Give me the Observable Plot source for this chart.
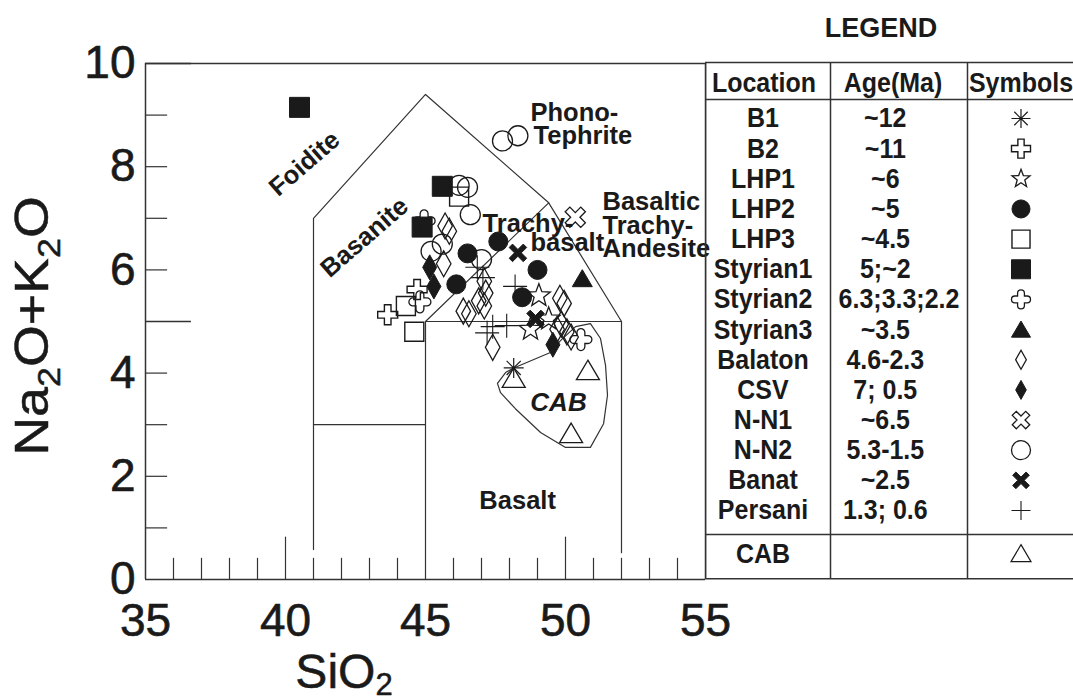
<!DOCTYPE html>
<html><head><meta charset="utf-8">
<script src="https://cdn.jsdelivr.net/npm/d3@7"></script>
<script src="https://cdn.jsdelivr.net/npm/@observablehq/plot@0.6"></script>
<style>
body{margin:0;background:#fff;}
#wrap{position:relative;width:1073px;height:697px;overflow:hidden;}
#wrap svg{position:absolute;top:0;}
#wrap [aria-label="x-axis tick label"] text, #wrap [aria-label="y-axis tick label"] text{stroke:#1a1a1a;stroke-width:0.6px;}
</style></head><body><div id="wrap"></div>
<script>
// ---------- data (SiO2, Na2O+K2O) ----------
const b1 = [[48.15, 4.1]];
const b2 = [[43.65, 5.13], [44.7, 5.62]];
const lhp1 = [[49.05, 5.5], [48.75, 4.85], [49.4, 5.05]];
const lhp2 = [[46.5, 6.32], [46.1, 5.72], [47.6, 6.55], [49.0, 6.0], [48.45, 5.47]];
const lhp3 = [[44.3, 5.3], [44.6, 4.8], [46.2, 7.42]];
const styrian1 = [[40.5, 9.15], [45.6, 7.62], [44.88, 6.83]];
const styrian2 = [[44.8, 5.38], [50.55, 4.65], [44.95, 6.95]];
const styrian3 = [[50.6, 5.83]];
const balaton = [[45.7, 6.85], [45.85, 6.75], [45.65, 6.12], [46.35, 5.2], [46.55, 5.15], [46.9, 5.4],
  [47.1, 5.78], [47.15, 5.55], [47.1, 5.3], [47.4, 4.5], [49.8, 5.45], [49.95, 5.35], [49.7, 4.85],
  [49.85, 4.95], [50.05, 4.8], [50.2, 4.7]];
const csv = [[45.15, 6.05], [45.3, 5.68], [49.55, 4.55]];
const nn1 = [[50.35, 7.02]];
const nn2 = [[47.75, 8.5], [48.3, 8.6], [46.2, 7.64], [46.5, 7.6], [46.6, 7.07], [45.2, 6.36], [45.6, 6.5], [47.0, 6.2]];
const banat = [[48.3, 6.33], [48.93, 5.05]];
const persani = [[46.85, 6.05], [47.05, 5.85], [48.2, 5.68], [47.2, 4.78], [47.4, 4.9], [47.9, 4.92]];
const cab = [[48.15, 3.9], [50.8, 4.05], [50.2, 2.83]];

// TAS field boundaries
const tasOuter = [[41, 0.58], [41, 7], [45, 9.4], [49.4, 7.3], [52, 5], [52, 0.52]];
const tasPicro = [[41, 3], [45, 3]];
const tasBasalt = [[45, 0], [45, 5], [52, 5]];
const tasTrachy = [[45, 5], [49.4, 7.3]];
const cabOutline = [[48.11, 4.09], [49.46, 4.4], [49.82, 4.63], [50.36, 4.9], [50.89, 4.96], [51.25, 4.67],
  [51.43, 4.15], [51.5, 3.57], [51.36, 3.02], [50.89, 2.56], [50.0, 2.56], [49.11, 2.85], [48.21, 3.31],
  [47.68, 3.62], [47.57, 3.8], [47.86, 4.01], [48.11, 4.09]];

// axis ticks
const xTickLabels = [35, 40, 45, 50, 55];
const yTickLabels = [0, 2, 4, 6, 8, 10];
const xMinor = [36, 37, 38, 39, 41, 42, 43, 44, 46, 47, 48, 49, 51, 52, 53, 54];
const xMajor = [40, 50];
const yMinor = [1, 2, 3, 4, 6, 7, 8, 9];
const yMajor = [5, 10];

// field labels
const rotNames = ["Foidite", "Basanite"];
const rotX = [40.68, 42.82];
const rotY = [8.06, 6.63];
const startNames = ["Phono-", "Tephrite", "Trachy-", "basalt", "Basaltic", "Trachy-", "Andesite"];
const startX = [48.75, 48.86, 47.04, 48.75, 51.32, 51.32, 51.32];
const startY = [9.05, 8.59, 6.9, 6.53, 7.31, 6.86, 6.41];

// legend
const locations = ["B1", "B2", "LHP1", "LHP2", "LHP3", "Styrian1", "Styrian2", "Styrian3", "Balaton", "CSV", "N-N1", "N-N2", "Banat", "Persani"];
const ages = ["~12", "~11", "~6", "~5", "~4.5", "5;~2", "6.3;3.3;2.2", "~3.5", "4.6-2.3", "7; 0.5", "~6.5", "5.3-1.5", "~2.5", "1.3; 0.6"];
const headers = ["Location", "Age(Ma)", "Symbols"];

// ---------- symbols ----------
const rad = s => Math.sqrt(s / Math.PI);
function poly(ctx, pts, rot = 0) {
  const c = Math.cos(rot), s = Math.sin(rot);
  pts.forEach(([x, y], i) => { const X = x * c - y * s, Y = x * s + y * c; i ? ctx.lineTo(X, Y) : ctx.moveTo(X, Y); });
  ctx.closePath();
}
function plusPts(r, w) {
  return [[w, -w], [w, -r], [-w, -r], [-w, -w], [-r, -w], [-r, w], [-w, w], [-w, r], [w, r], [w, w], [r, w], [r, -w]];
}
const S = {
  asterisk: {draw(ctx, size) { const r = rad(size); for (let k = 0; k < 4; k++) { const a = k * Math.PI / 4; ctx.moveTo(r * Math.cos(a), r * Math.sin(a)); ctx.lineTo(-r * Math.cos(a), -r * Math.sin(a)); } }},
  cross: {draw(ctx, size) { const r = rad(size); poly(ctx, plusPts(r, r * 0.33)); }},
  xOutline: {draw(ctx, size) { const r = rad(size); poly(ctx, plusPts(r, r * 0.3), Math.PI / 4); }},
  xThick: {draw(ctx, size) { const r = rad(size); poly(ctx, plusPts(r, r * 0.24), Math.PI / 4); }},
  star: {draw(ctx, size) { const r = rad(size); const pts = []; for (let k = 0; k < 10; k++) { const a = -Math.PI / 2 + k * Math.PI / 5; const q = k % 2 ? r * 0.42 : r; pts.push([q * Math.cos(a), q * Math.sin(a)]); } poly(ctx, pts); }},
  circle: {draw(ctx, size) { const r = rad(size); ctx.moveTo(r, 0); ctx.arc(0, 0, r, 0, 2 * Math.PI); }},
  square: {draw(ctx, size) { const r = rad(size); ctx.rect(-r, -r, 2 * r, 2 * r); }},
  triangle: {draw(ctx, size) { const r = rad(size); poly(ctx, [[0, -0.9 * r], [r, 0.8 * r], [-r, 0.8 * r]]); }},
  diamond: {draw(ctx, size) { const r = rad(size); poly(ctx, [[0, -r], [0.56 * r, 0], [0, r], [-0.56 * r, 0]]); }},
  plus: {draw(ctx, size) { const r = rad(size); ctx.moveTo(-r, 0); ctx.lineTo(r, 0); ctx.moveTo(0, -r); ctx.lineTo(0, r); }},
  quatrefoil: {draw(ctx, size) {
    const r = rad(size), a = r * 0.36, e = r - a;
    ctx.moveTo(a, -a); ctx.lineTo(a, -e); ctx.arc(0, -e, a, 0, Math.PI, true);
    ctx.lineTo(-a, -a); ctx.lineTo(-e, -a); ctx.arc(-e, 0, a, -Math.PI / 2, Math.PI / 2, true);
    ctx.lineTo(-a, a); ctx.lineTo(-a, e); ctx.arc(0, e, a, Math.PI, 0, true);
    ctx.lineTo(a, a); ctx.lineTo(e, a); ctx.arc(e, 0, a, Math.PI / 2, -Math.PI / 2, true);
    ctx.closePath();
  }}
};

const INK = "#1a1a1a";
// group styles, same order as locations
const groups = [
  {data: b1, sym: S.asterisk, filled: false, r: 10, sw: 1.2},
  {data: b2, sym: S.cross, filled: false, r: 10, sw: 1.4},
  {data: lhp1, sym: S.star, filled: false, r: 12, sw: 1.3},
  {data: lhp2, sym: S.circle, filled: true, r: 9.5, sw: 1},
  {data: lhp3, sym: S.square, filled: false, r: 9.5, sw: 1.4},
  {data: styrian1, sym: S.square, filled: true, r: 10, sw: 1},
  {data: styrian2, sym: S.quatrefoil, filled: false, r: 11, sw: 1.3},
  {data: styrian3, sym: S.triangle, filled: true, r: 10, sw: 1},
  {data: balaton, sym: S.diamond, filled: false, r: 13, sw: 1.3},
  {data: csv, sym: S.diamond, filled: true, r: 12.5, sw: 1},
  {data: nn1, sym: S.xOutline, filled: false, r: 11, sw: 1.3},
  {data: nn2, sym: S.circle, filled: false, r: 10, sw: 1.3},
  {data: banat, sym: S.xThick, filled: true, r: 10, sw: 1},
  {data: persani, sym: S.plus, filled: false, r: 12, sw: 1.1}
];
const cabStyle = {data: cab, sym: S.triangle, filled: false, r: 11.5, sw: 1.3};

const FONT = "'Liberation Sans', Arial, Helvetica, sans-serif";
const LABEL = 25.5;
const dotMark = (g, opts = {}) => Plot.dot(g.data, {x: d => d[0], y: d => d[1], symbol: g.sym, r: g.r,
  fill: g.filled ? INK : "none", stroke: INK, strokeWidth: g.sw, ...opts});

// ---------- main chart ----------
const main = Plot.plot({
  width: 1073, height: 697,
  marginLeft: 145, marginRight: 368, marginTop: 63, marginBottom: 118,
  x: {domain: [35, 55]},
  y: {domain: [0, 10]},
  style: {fontFamily: FONT, background: "transparent", color: INK, overflow: "visible"},
  marks: [
    Plot.line(tasOuter, {x: d => d[0], y: d => d[1], stroke: "#333", strokeWidth: 1.2}),
    Plot.line(tasPicro, {x: d => d[0], y: d => d[1], stroke: "#333", strokeWidth: 1.2}),
    Plot.line(tasBasalt, {x: d => d[0], y: d => d[1], stroke: "#333", strokeWidth: 1.2}),
    Plot.line(tasTrachy, {x: d => d[0], y: d => d[1], stroke: "#333", strokeWidth: 1.2}),
    Plot.line(cabOutline, {x: d => d[0], y: d => d[1], stroke: "#333", strokeWidth: 1.2}),
    // frame
    Plot.ruleX([35, 55], {y1: 0, y2: 10, stroke: "#333", strokeWidth: 1.5}),
    Plot.ruleY([0, 10], {x1: 35, x2: 55, stroke: "#333", strokeWidth: 1.5}),
    // ticks
    Plot.ruleX(xMinor, {y1: 0, y2: 0.41, stroke: "#333", strokeWidth: 1.2}),
    Plot.ruleX(xMajor, {y1: 0, y2: 0.82, stroke: "#333", strokeWidth: 1.2}),
    Plot.ruleY(yMinor, {x1: 35, x2: 35.79, stroke: "#333", strokeWidth: 1.2}),
    Plot.ruleY(yMajor, {x1: 35, x2: 36.64, stroke: "#333", strokeWidth: 1.4}),
    Plot.axisX({ticks: xTickLabels, tickSize: 0, tickPadding: 24, fontSize: 46, label: null}),
    Plot.axisY({ticks: yTickLabels, tickSize: 0, tickPadding: 10, fontSize: 46, label: null}),
    // field labels
    Plot.text(rotNames, {x: (d, i) => rotX[i], y: (d, i) => rotY[i], text: d => d, rotate: -41,
      fontSize: LABEL, fontWeight: "bold", fill: INK}),
    Plot.text(startNames, {x: (d, i) => startX[i], y: (d, i) => startY[i], text: d => d, textAnchor: "start",
      fontSize: LABEL, fontWeight: "bold", fill: INK}),
    Plot.text(["Basalt"], {x: 48.29, y: 1.53, text: d => d, fontSize: LABEL, fontWeight: "bold", fill: INK}),
    Plot.text(["CAB"], {x: 49.75, y: 3.43, text: d => d, fontSize: 26, fontWeight: "bold", fontStyle: "italic", fill: INK}),
    // data points
    dotMark(cabStyle),
    ...groups.map(g => dotMark(g))
  ]
});

const svgM = d3.select(main);
const yl = svgM.append("text").attr("transform", "translate(48,326) rotate(-90) scale(1.12,1)")
  .attr("text-anchor", "middle").attr("font-size", 48).attr("fill", INK).attr("font-family", FONT)
  .attr("stroke", INK).attr("stroke-width", 0.5);
[["Na", 0], ["2", 1], ["O+K", 0], ["2", 1], ["O", 0]].forEach(([t, sub]) =>
  yl.append("tspan").text(t).attr("font-size", sub ? 32 : 48).attr("dy", sub ? 12 : (t === "Na" ? 0 : -12)));
const xl = svgM.append("text").attr("x", 344).attr("y", 688).attr("font-size", 48).attr("fill", INK)
  .attr("font-family", FONT).attr("stroke", INK).attr("stroke-width", 0.5);
xl.append("tspan").text("SiO");
xl.append("tspan").text("2").attr("font-size", 31).attr("dy", 7);

// ---------- legend table ----------
const nRows = locations.length;
const TXT = {fontSize: 25, fontWeight: "bold", fill: INK};
const legend = Plot.plot({
  width: 368, height: 697, margin: 0,
  x: {type: "linear", domain: [0, 1, 2, 3], range: [0, 125, 262, 399]},
  y: {type: "linear", domain: [0, nRows - 1], range: [118, 510]},
  style: {fontFamily: FONT, background: "transparent", color: INK},
  marks: [
    Plot.ruleX([0, 1, 2], {y1: -1.86, y2: 15.26, stroke: "#333", strokeWidth: 1.5}),
    Plot.ruleY([-1.86, -0.63, 13.8, 15.26], {x1: 0, x2: 3, stroke: "#333", strokeWidth: 1.5}),
    Plot.text(["LEGEND"], {x: 1.5, y: -3.0, text: d => d, dx: -18, fontSize: 27, fontWeight: "bold", fill: INK}),
    Plot.text([headers[0]], {x: 0.5, y: -1.19, text: d => d, dx: -4, ...TXT}),
    Plot.text([headers[1]], {x: 1.5, y: -1.19, text: d => d, dx: -6, ...TXT}),
    Plot.text([headers[2]], {x: 2.5, y: -1.19, text: d => d, dx: -15, ...TXT}),
    Plot.text(locations, {x: 0.5, y: (d, i) => i, text: d => d, dx: -5, ...TXT}),
    Plot.text(ages, {x: (d) => 1.5 + (d.length > 8 ? 0 : -0.1), y: (d, i) => i, text: d => d, ...TXT}),
    Plot.text(["CAB"], {x: 0.5, y: 14.43, text: d => d, dx: -5, ...TXT}),
    ...groups.map((g, i) => Plot.dot([i], {x: 2.5, y: d => d, dx: -15, symbol: g.sym, r: Math.min(g.r, 10) * 0.95,
      fill: g.filled ? INK : "none", stroke: INK, strokeWidth: g.sw})),
    Plot.dot([14.43], {x: 2.5, y: d => d, dx: -15, symbol: cabStyle.sym, r: 10, fill: "none", stroke: INK, strokeWidth: 1.2})
  ]
});
legend.style.left = "705px";

// stretch the table text vertically, like the narrow face of the original
d3.select(legend).selectAll("text").each(function () {
  const t = d3.select(this);
  if (t.text() === "LEGEND") return;
  const x = +t.attr("x") || 0, y = +t.attr("y") || 0, tr = t.attr("transform") || "";
  t.attr("transform", `${tr} translate(${x},${y}) scale(1,1.12) translate(${-x},${-y})`);
});

const wrap = document.getElementById("wrap");
wrap.appendChild(main);
wrap.appendChild(legend);
main.style.left = "0px";
</script></body></html>
